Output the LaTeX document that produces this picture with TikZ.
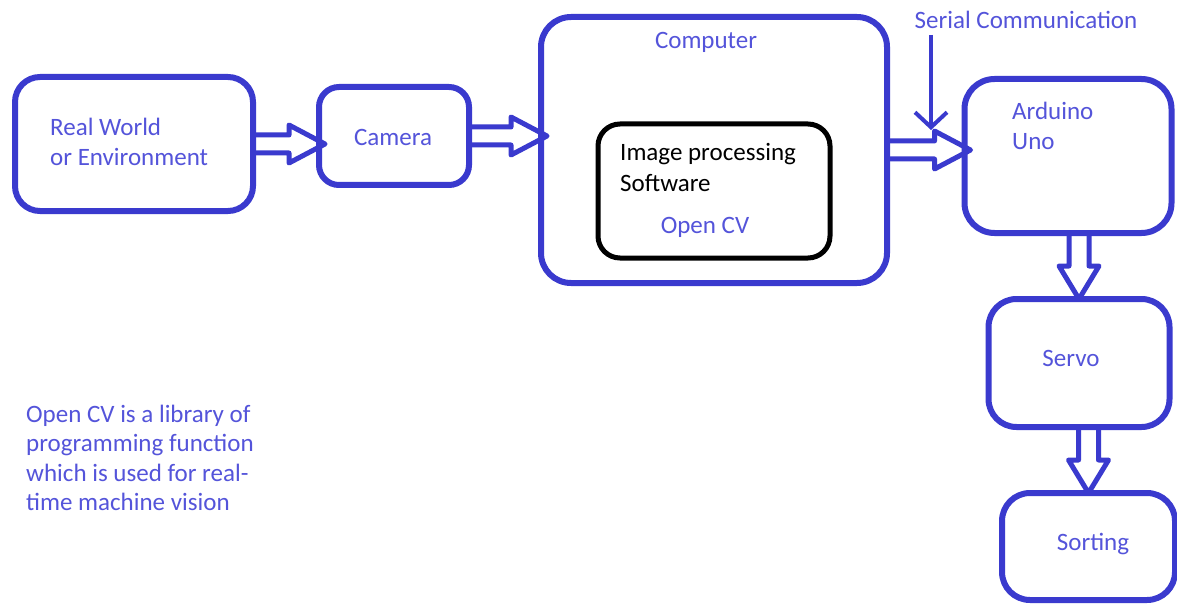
\documentclass[tikz,border=0pt]{standalone}
\usepackage{fontspec}
\setmainfont{Carlito}
\usetikzlibrary{calc,arrows.meta}
\definecolor{lineblue}{RGB}{58,58,206}
\definecolor{textblue}{RGB}{84,84,218}
\tikzset{
  box/.style={draw=lineblue, line width=6pt, rounded corners=#1, inner sep=0pt},
  box/.default=25pt,
  lbl/.style={text=textblue, font=\fontsize{25}{29.5}\selectfont, inner sep=0pt, align=left},
  fat/.style={draw=lineblue, line width=5pt, line join=round},
}
\newcommand{\hfat}[2]{\draw[fat] ($(#1)+(0,-9)$) -- ($(#2 |- #1)+(-27,-9)$) -- ++(0,-10) -- ($(#2 |- #1)+(9,0)$) -- ($(#2 |- #1)+(-27,19)$) -- ++(0,-10) -- ($(#1)+(0,9)$);}
\newcommand{\vfat}[2]{\draw[fat] ($(#1 -| #2)+(-10,0)$) -- ($(#2)+(-10,-30)$) -- ++(-10,0) -- ($(#2)+(0,3)$) -- ($(#2)+(20,-30)$) -- ++(-10,0) -- ($(#1 -| #2)+(10,0)$);}
\begin{document}
\begin{tikzpicture}[x=1pt,y=-1pt]
\useasboundingbox[fill=white] (0,0) rectangle (1177,604);
% boxes
\node[box, minimum width=238pt, minimum height=134pt] (rw) at (134,144) {};
\node[box=20pt, minimum width=150pt, minimum height=98pt] (cam) at (394,136) {};
\node[box=30pt, minimum width=346pt, minimum height=266pt] (comp) at (714,150) {};
\node[draw=black, line width=5pt, rounded corners=22pt, minimum width=232pt, minimum height=134pt] (ip) at (714,191) {};
\node[box=30pt, minimum width=207pt, minimum height=154pt] (ard) at (1068,156) {};
\node[box=28pt, minimum width=181pt, minimum height=128pt] (servo) at (1079,363) {};
\node[box=28pt, minimum width=173pt, minimum height=107pt] (sort) at (1088.5,546.5) {};
% labels
\node[lbl, anchor=west] (rwt) at (50,142) {Real World\\or Environment};
\node[lbl] (camt) at (393,137) {Camera};
\node[lbl] (compt) at (706,42) {Computer};
\node[lbl, anchor=west, text=black, font=\fontsize{25}{31}\selectfont] (ipt) at (620,167.5) {Image processing\\Software};
\node[lbl] (ocv) at (705,227) {Open CV};
\node[lbl] (sc) at (1026,20) {Serial Communication};
\node[lbl, anchor=west] (ardt) at (1012,126) {Arduino\\Uno};
\node[lbl] (servot) at (1071,358) {Servo};
\node[lbl] (sortt) at (1093,544) {Sorting};
\node[lbl, anchor=west] (note) at (26,458) {Open CV is a library of\\programming function\\which is used for real-\\time machine vision};
% connectors
\hfat{rw.east}{cam.west}
\hfat{cam.east}{comp.west}
\hfat{comp.east}{ard.west}
\vfat{ard.south}{servo.north}
\vfat{servo.south}{sort.north}
\coordinate (sctip) at (931,130);
\draw[draw=lineblue, line width=4pt, -{Straight Barb[length=15pt,width=32pt]}] ($(sctip |- sc.south)+(0,6)$) -- (sctip);
\end{tikzpicture}
\end{document}
